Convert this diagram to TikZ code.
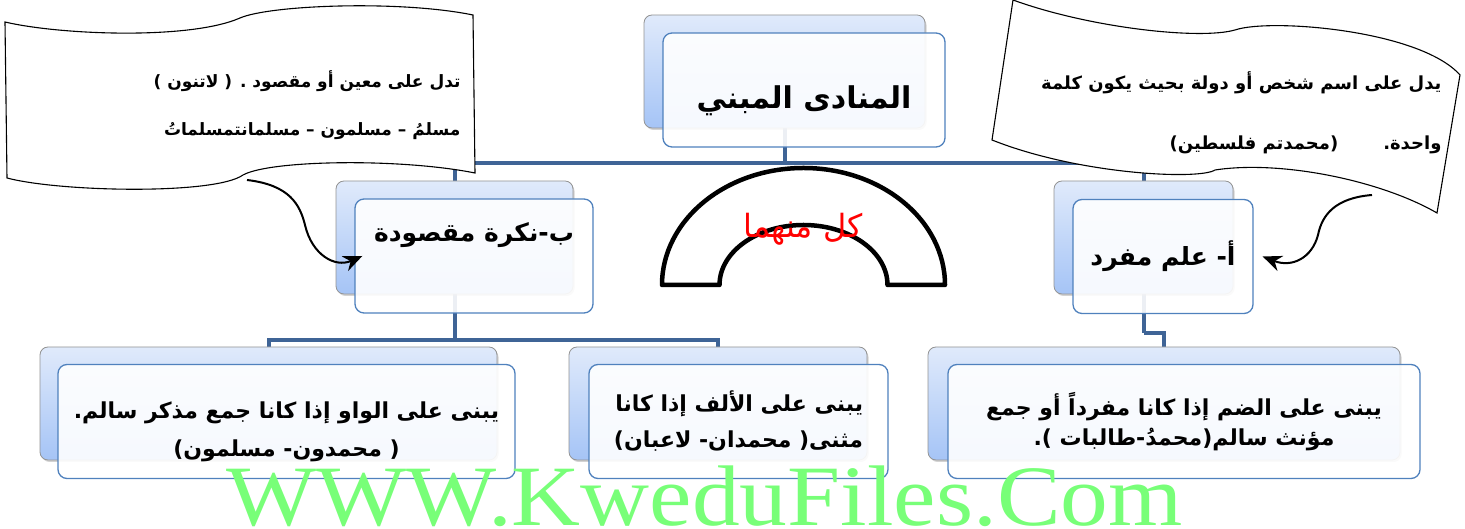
\documentclass[tikz,border=0pt]{standalone}
\usepackage{fontspec}
\usetikzlibrary{positioning,shadows,arrows.meta,backgrounds}
\TeXXeTstate=1
\setmainfont{Liberation Serif}
\newfontfamily\arabicfont[Script=Arabic]{DejaVu Sans}
\definecolor{linkblue}{RGB}{63,100,150}
\definecolor{frontline}{RGB}{79,129,189}
\definecolor{backtop}{RGB}{224,234,251}
\definecolor{backbot}{RGB}{165,196,246}
\definecolor{markgreen}{RGB}{120,255,120}
\newcommand{\rootfont}{\arabicfont\bfseries\fontsize{30pt}{36pt}\selectfont}
\newcommand{\childfont}{\arabicfont\bfseries\fontsize{25pt}{30pt}\selectfont}
\newcommand{\leaffont}{\arabicfont\bfseries\fontsize{22pt}{36pt}\selectfont}
\newcommand{\notefont}{\arabicfont\bfseries\fontsize{17pt}{48pt}\selectfont}
\tikzset{
  backbox/.style={draw=gray!85, line width=0.8pt, rounded corners=8pt,
    top color=backtop, bottom color=backbot, minimum height=113pt, inner sep=0pt,
    drop shadow={shadow xshift=1.5pt, shadow yshift=-2pt, opacity=0.35}},
  frontbox/.style={draw=frontline, line width=1.3pt, rounded corners=9pt,
    fill=white, fill opacity=0.9, text opacity=1, minimum height=114pt, inner sep=4pt},
  orgline/.style={draw=linkblue, line width=4pt},
  callout/.style={draw=black, line width=1.1pt, fill=white},
  tail/.style={draw=black, line width=2pt, -{Stealth[length=19pt, width=16pt]}},
}
\begin{document}
\begin{tikzpicture}[x=1pt, y=1pt]
\useasboundingbox (0,0) rectangle (1465,529);
% top of the chart
\node[backbox, minimum width=281pt] (rootback) at (784.5,457.5) {};
\node[frontbox, minimum width=282pt, font=\rootfont, text height=44pt] (root) at ([shift={(19.5,-18.5)}]rootback.center) {\beginR المنادى المبني\endR};
% second row
\node[backbox, minimum width=237pt] (nakiraback) at (454.5,291.5) {};
\node[frontbox, minimum width=238pt, font=\childfont, text depth=48pt] (nakira) at ([shift={(19.5,-18.5)}]nakiraback.center) {\beginR ب-نكرة مقصودة\endR};
\node[backbox, minimum width=179pt] (alamback) at (1143.5,291.5) {};
\node[frontbox, minimum width=180pt, font=\childfont] (alam) at ([shift={(19.5,-19)}]alamback.center) {\beginR أ- علم مفرد\endR};
% third row
\node[backbox, minimum width=457pt] (wawback) at (268.5,125.5) {};
\node[frontbox, minimum width=457pt, font=\leaffont, align=center, text height=76pt] (waw) at ([shift={(18,-18)}]wawback.center)
  {\beginR يبنى على الواو إذا كانا جمع مذكر سالم.\endR\\[2pt]\beginR ( محمدون- مسلمون)\endR};
\node[backbox, minimum width=298pt] (alifback) at (718,125.5) {};
\node[frontbox, minimum width=299pt, font=\leaffont, align=right] (alif) at ([shift={(20.5,-18)}]alifback.center)
  {\beginR يبنى على الألف إذا كانا\endR\\\beginR مثنى( محمدان- لاعبان)\endR};
\node[backbox, minimum width=472pt] (dammback) at (1164,125.5) {};
\node[frontbox, minimum width=472pt, font=\leaffont, align=center] (damm) at ([shift={(20,-18)}]dammback.center)
  {\beginR يبنى على الضم إذا كانا مفرداً أو جمع\endR\\[-6pt]\beginR مؤنث سالم(محمدُ-طالبات ).\endR};
% connectors
\begin{pgfonlayer}{background}
  \draw[orgline] (rootback.south) -- ++(0,-35) coordinate (rootjoin);
  \draw[orgline] (rootjoin) -| (nakiraback.north);
  \draw[orgline] (rootjoin) -| (alamback.north);
  \draw[orgline] (nakiraback.south) -- ++(0,-46) coordinate (nakirajoin);
  \draw[orgline] (nakirajoin) -| (wawback.north);
  \draw[orgline] (nakirajoin) -| (alifback.north);
  \draw[orgline] (alamback.south) -- ++(0,-39) coordinate (alamjoin);
  \draw[orgline] (alamjoin) -| (dammback.north);
\end{pgfonlayer}
% half ring in the middle
\draw[line width=4.5pt, line join=round, fill=white] (662,244) arc[start angle=180, end angle=0, x radius=141.5, y radius=117]
  -- (887.5,244) arc[start angle=0, end angle=180, x radius=84, y radius=60] -- cycle;
\node[font=\arabicfont\fontsize{32pt}{36pt}\selectfont, text=red] (both) at (803,300) {\beginR كل منهما\endR};
% notes
\draw[callout] (5,507) .. controls (60,494) and (190,489) .. (240,511) .. controls (270,524) and (400,529) .. (473,514)
  -- (475,356) .. controls (400,371) and (270,369) .. (243,354) .. controls (215,334) and (60,337) .. (7,351) -- cycle;
\node[font=\notefont, align=right, anchor=east] (noteleft) at (464,424)
  {\beginR تدل على معين أو مقصود . ( لاتنون )\endR\\\beginR مسلمُ – مسلمون – مسلمانتمسلماتُ\endR};
\draw[callout] (1013,529) .. controls (1090,501) and (1200,489) .. (1235,499) .. controls (1270,511) and (1420,499) .. (1460,454)
  -- (1437,316) .. controls (1380,349) and (1280,369) .. (1215,359) .. controls (1200,349) and (1080,354) .. (992,389) -- cycle;
\node[font=\arabicfont\bfseries\fontsize{18pt}{60pt}\selectfont, align=right, anchor=east] (noteright) at (1445,416)
  {\beginR يدل على اسم شخص أو دولة بحيث يكون كلمة\endR\\\beginR واحدة.\hspace{45pt}(محمدتم فلسطين)\endR};
\coordinate (tailleft) at (247,349);
\coordinate (tailright) at (1372,334);
\draw[tail] (tailleft) .. controls (290,344) and (300,324) .. (305,304) .. controls (312,274) and (335,261) .. ([xshift=8pt]nakira.west);
\draw[tail] (tailright) .. controls (1335,331) and (1322,314) .. (1318,294) .. controls (1312,271) and (1292,261) .. ([xshift=9pt]alam.east);
% watermark
\node[font=\fontsize{86pt}{86pt}\selectfont, text=markgreen, anchor=base, inner sep=0pt, xscale=1.11] (mark) at (704.5,3) {WWW.KweduFiles.Com};
\end{tikzpicture}
\end{document}
